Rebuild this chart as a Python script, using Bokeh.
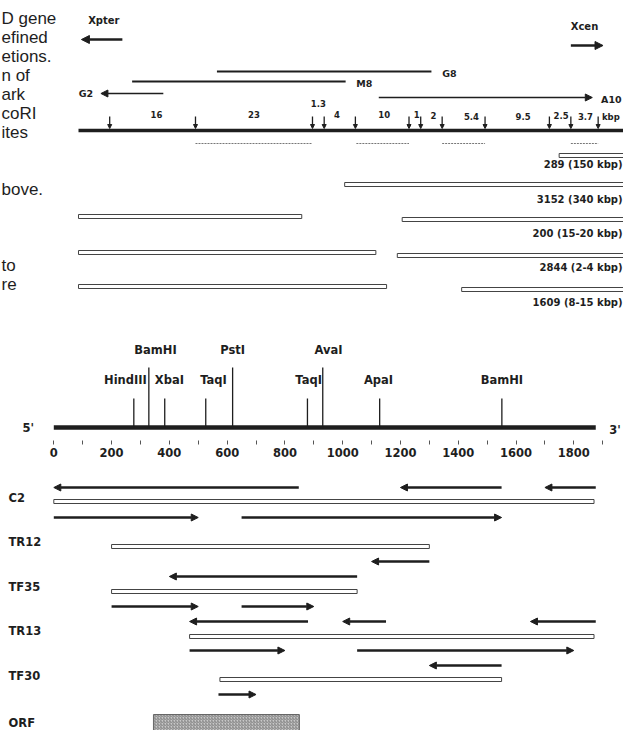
from bokeh.plotting import figure
from bokeh.layouts import column
from bokeh.models import Range1d, Arrow, NormalHead, ColumnDataSource, FixedTicker
from bokeh.core.properties import value
from bokeh.embed import file_html
from bokeh.resources import INLINE

# ------------------------------------------------------------------
# DATA — panel A: schematic map of the region (map units)
# ------------------------------------------------------------------
caption_lines = ["D gene", "efined", "etions.", "n of", "ark", "coRI", "ites", "bove.", "to", "re"]
caption_row = [0, 1, 2, 3, 4, 5, 6, 9, 13, 14]

ecori_sites = [112, 200, 320, 332, 364, 419, 431, 453, 497, 563, 585, 613]
fragment_kbp = ["16", "23", "1.3", "4", "10", "1", "2", "5.4", "9.5", "2.5", "3.7"]
probe_start = [200, 365, 453, 585]
probe_end = [320, 419, 497, 613]

deletion_names = ["G8", "M8", "G2", "A10"]
deletion_from = [222, 135, 167, 388]
deletion_to = [442, 354, 103, 607]
deletion_is_arrow = [False, False, True, True]

patient_ids = ["289", "3152", "200", "2844", "1609"]
patient_sizes = ["150 kbp", "340 kbp", "15-20 kbp", "2-4 kbp", "8-15 kbp"]
patient_seg_start = [[573], [353], [80, 412], [80, 407], [80, 473]]
patient_seg_end = [[645], [645], [309, 645], [385, 645], [396, 645]]

# ------------------------------------------------------------------
# DATA — panel B: cDNA restriction map (bp) and sequenced clones
# ------------------------------------------------------------------
site_names = ["HindIII", "BamHI", "XbaI", "TaqI", "PstI", "TaqI", "AvaI", "ApaI", "BamHI"]
site_bp = [277, 329, 384, 526, 619, 878, 931, 1128, 1551]
site_tall = [False, True, False, False, True, False, True, False, False]
insert_bp = 1876
tick_major = [0, 200, 400, 600, 800, 1000, 1200, 1400, 1600, 1800]
tick_minor = [100, 300, 500, 700, 900, 1100, 1300, 1500, 1700, 1900]

clone_names = ["C2", "TR12", "TF35", "TR13", "TF30"]
clone_start = [0, 200, 200, 470, 575]
clone_end = [1870, 1300, 1050, 1870, 1550]

read_from = [848, 1550, 1876, 0, 650, 1300, 1050, 200, 650, 880, 1150, 1876, 470, 1050, 1550, 570]
read_to = [0, 1200, 1700, 500, 1550, 1100, 400, 500, 900, 470, 1000, 1650, 800, 1800, 1300, 700]
read_lane = [0, 0, 0, 1, 1, 2, 3, 4, 4, 5, 5, 5, 6, 6, 7, 8]

orf_start, orf_end = 345, 850

# ------------------------------------------------------------------
# LAYOUT / STYLE
# ------------------------------------------------------------------
INK = "#1e1e1e"
BOLD = value("DejaVu Sans")
CAP = value("Liberation Sans")
W = 623

# panel A vertical layout (pixels from top of reference page)
cap_y0, cap_dy = 18, 19
map_y = 130
site_arrow_top, site_arrow_tip = 116, 128
frag_y = [114, 114, 103, 114, 114, 114, 115, 116, 116, 115, 116]
frag_dx = [4, 0, 0, -3, 2, 2, 2, 8, 6, 1, 1]
probe_y = 143
del_y = [71, 81, 93, 97]
del_width = [2.0, 2.0, 1.6, 1.6]
del_label_gap = [11, 11, 8, 9]
patient_bar_y = [[155], [184], [216, 219], [252, 255], [286, 289]]
patient_label_y = [164, 199, 233, 267, 302]

# panel B layout
dna_y = 433
tall_top, short_top = 373, 404
tall_lab_y, short_lab_y = 355, 385
label_dx = [-29, 23, 16, 27, 0, 4, 20, -4, 0]
clone_bar_y = [507, 552, 597, 642, 685]
clone_lab_y = [503, 547, 592, 636, 681]
lane_y = [493, 523, 567, 582, 612, 627, 656, 671, 700]
orf_top, orf_bot, orf_lab_y = 720, 736, 728

# bp -> px:  x_px = 53.3 + 0.28889 * bp ; frame spans px 0..623
BP_PER_PX = 1 / 0.28889
x_bp = Range1d(-53.3 * BP_PER_PX, (W - 53.3) * BP_PER_PX)
left_bp = -45.3 * BP_PER_PX   # left edge of row labels


def make(height, x_range, y_range, xaxis=None):
    p = figure(width=W, height=height, x_range=x_range, y_range=y_range,
               output_backend="svg", toolbar_location=None, min_border=0,
               x_axis_location=xaxis, y_axis_location=None)
    p.grid.visible = False
    p.outline_line_color = None
    p.background_fill_color = "white"
    p.border_fill_color = "white"
    return p


def txt(p, x, y, t, size, align="center", bold=True, font=BOLD):
    p.text(x=x, y=y, text=t, text_font=font, text_font_size=size,
           text_font_style="bold" if bold else "normal", text_align=align,
           text_baseline="middle", text_color=INK)


def arrows(p, x0, x1, y0, y1, width, head):
    src = ColumnDataSource(dict(x0=x0, x1=x1, y0=y0, y1=y1))
    p.add_layout(Arrow(end=NormalHead(size=head, fill_color=INK, line_color=INK, line_width=1),
                       x_start="x0", y_start="y0", x_end="x1", y_end="y1",
                       source=src, line_color=INK, line_width=width))


# ------------------------------ panel A ------------------------------
pa = make(312, Range1d(0, 639), Range1d(312, 0))

txt(pa, [1] * len(caption_lines), [cap_y0 + cap_dy * r for r in caption_row], caption_lines,
    "17px", align="left", bold=False, font=CAP)

# orientation arrows
txt(pa, [106], [20], ["Xpter"], "10px")
arrows(pa, [125], [83], [39], [39], 2.6, 8)
txt(pa, [599], [26], ["Xcen"], "10px")
arrows(pa, [585], [618], [45], [45], 2.6, 8)

# deletions
for name, a, b, y, w, g, is_arr in zip(deletion_names, deletion_from, deletion_to, del_y,
                                       del_width, del_label_gap, deletion_is_arrow):
    if is_arr:
        arrows(pa, [a], [b], [y], [y], w, 7)
    else:
        pa.segment(x0=[a], y0=[y], x1=[b], y1=[y], line_color=INK, line_width=w)
    if b > a:
        txt(pa, [b + g], [y + 2], [name], "9.5px", align="left")
    else:
        txt(pa, [b - g], [y], [name], "9.5px", align="right")

# genomic map line, EcoRI sites, fragment sizes, probes
pa.segment(x0=[80], y0=[map_y], x1=[645], y1=[map_y], line_color=INK, line_width=3.6)
arrows(pa, ecori_sites, ecori_sites, [site_arrow_top] * len(ecori_sites),
       [site_arrow_tip] * len(ecori_sites), 1.3, 4)
mids = [(ecori_sites[i] + ecori_sites[i + 1]) / 2 + frag_dx[i] for i in range(len(fragment_kbp))]
txt(pa, mids, frag_y, fragment_kbp, "8.5px")
txt(pa, [626], [116], ["kbp"], "8.5px")
pa.segment(x0=probe_start, y0=[probe_y] * 4, x1=probe_end, y1=[probe_y] * 4,
           line_color="#777777", line_width=1, line_dash="2 1")

# patient deletion bars
for pid, size, s0, s1, ys, ly in zip(patient_ids, patient_sizes, patient_seg_start,
                                     patient_seg_end, patient_bar_y, patient_label_y):
    pa.quad(left=s0, right=s1, top=[y - 2 for y in ys], bottom=[y + 2 for y in ys],
            fill_color="white", line_color="#444444", line_width=1)
    txt(pa, [638], [ly], [f"{pid} ({size})"], "10px", align="right")

# ------------------------------ panel B1: restriction map ------------------------------
pb = make(150, x_bp, Range1d(446, 318), xaxis="below")
pb.min_border_bottom = 22
pb.frame_height = 128
ax = pb.xaxis[0]
ax.ticker = FixedTicker(ticks=tick_major, minor_ticks=tick_minor)
ax.axis_line_color = None
ax.major_tick_in = 0
ax.minor_tick_in = 0
ax.major_tick_out = 4
ax.minor_tick_out = 4
ax.major_tick_line_color = "#555555"
ax.minor_tick_line_color = "#555555"
ax.major_label_standoff = 3
ax.major_label_text_font = "DejaVu Sans"
ax.major_label_text_font_style = "bold"
ax.major_label_text_font_size = "11.5px"
ax.major_label_text_color = INK

pb.segment(x0=[0], y0=[dna_y], x1=[insert_bp], y1=[dna_y], line_color=INK, line_width=4.5)
tops = [tall_top if t else short_top for t in site_tall]
pb.segment(x0=site_bp, y0=[dna_y] * len(site_bp), x1=site_bp, y1=tops, line_color=INK, line_width=1.3)
lab_x = [b + d for b, d in zip(site_bp, label_dx)]
lab_y = [tall_lab_y if t else short_lab_y for t in site_tall]
txt(pb, lab_x, lab_y, site_names, "11.5px")
txt(pb, [-88], [dna_y], ["5'"], "11.5px")
txt(pb, [1943], [dna_y + 2], ["3'"], "11.5px")

# ------------------------------ panel B2: clones ------------------------------
pc = make(268, x_bp, Range1d(736, 468))
pc.x_range = pb.x_range
txt(pc, [left_bp] * len(clone_names), clone_lab_y, clone_names, "11.5px", align="left")
pc.quad(left=clone_start, right=clone_end, top=[y - 2 for y in clone_bar_y],
        bottom=[y + 2 for y in clone_bar_y], fill_color="white", line_color="#444444", line_width=1)
ry = [lane_y[l] for l in read_lane]
arrows(pc, read_from, read_to, ry, ry, 2.6, 7)

pc.quad(left=[orf_start], right=[orf_end], top=[orf_top], bottom=[orf_bot],
        fill_color="#c8c8c8", line_color="#666666", line_width=1,
        hatch_pattern="right_diagonal_line", hatch_color="#555555", hatch_scale=3, hatch_weight=0.6)
txt(pc, [left_bp], [orf_lab_y], ["ORF"], "11.5px", align="left")

layout = column(pa, pb, pc, spacing=0)
open("out.html", "w").write(file_html(layout, INLINE))
